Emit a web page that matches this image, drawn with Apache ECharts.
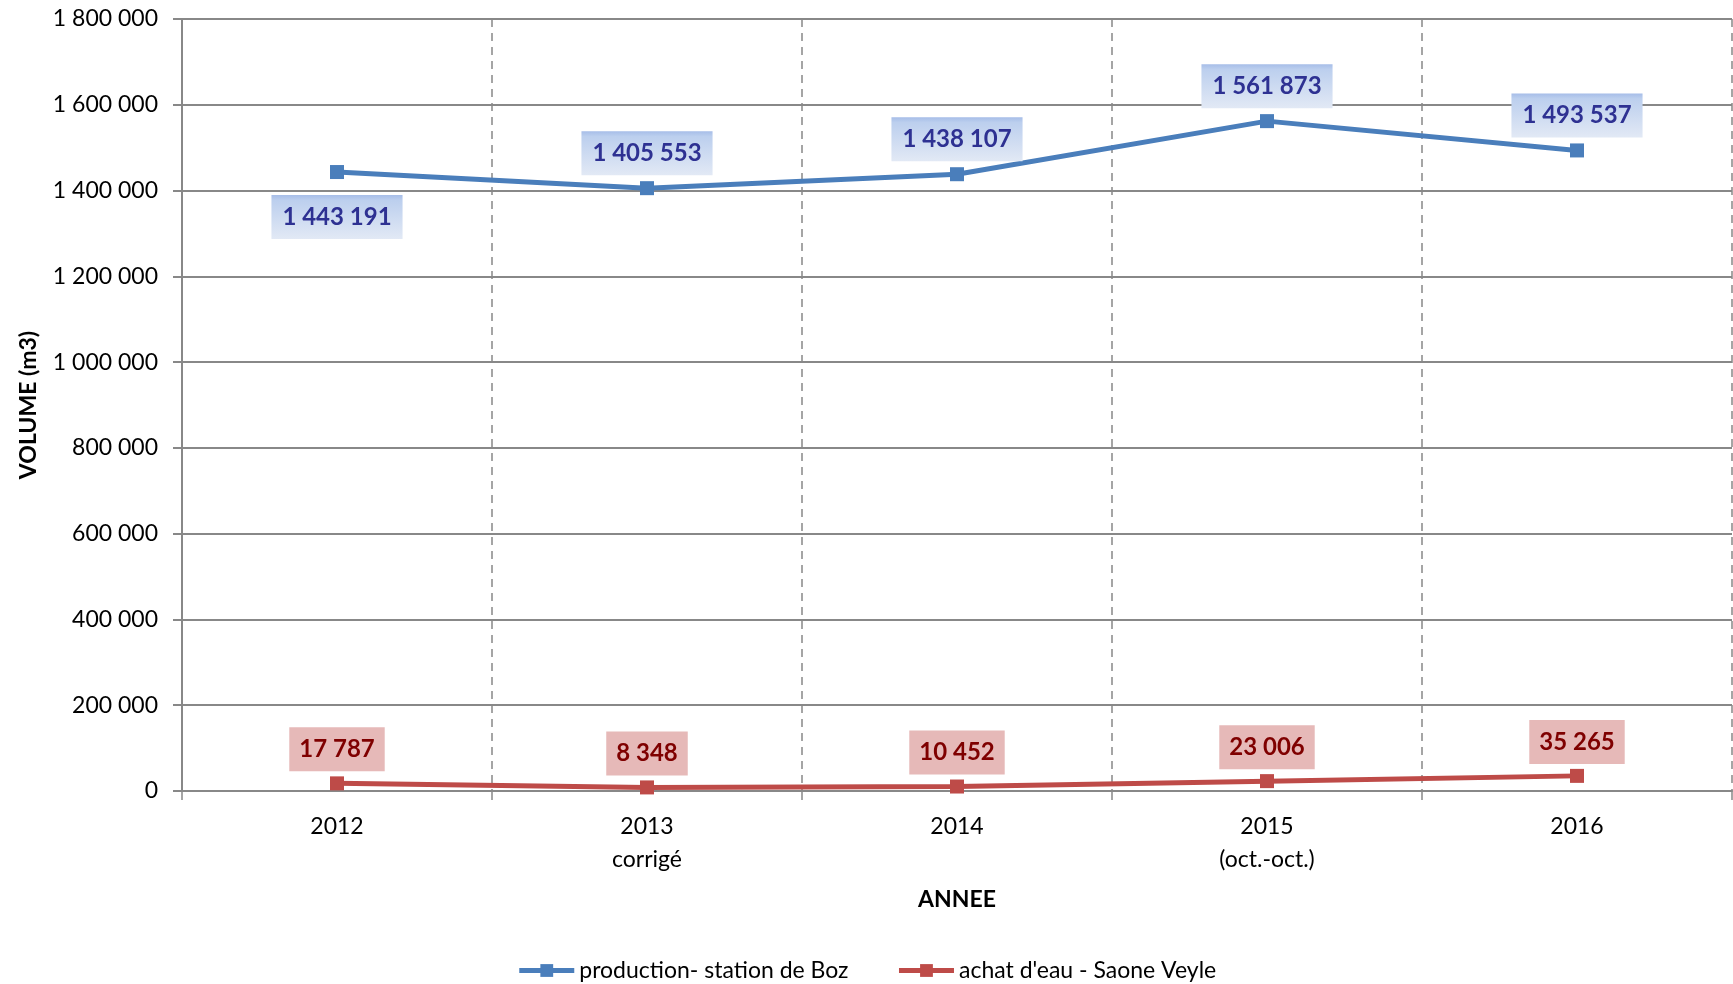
<!DOCTYPE html>
<html>
<head>
<meta charset="utf-8">
<script src="https://cdn.jsdelivr.net/npm/echarts@6/dist/echarts.min.js"></script>
<style>
html,body{margin:0;padding:0;background:#fff;}
#c{width:1733px;height:984px;}
</style>
</head>
<body>
<div id="c"></div>
<script>
const categories = ['2012', '2013\ncorrigé', '2014', '2015\n(oct.-oct.)', '2016'];
const productionBoz = [1443191, 1405553, 1438107, 1561873, 1493537];
const achatSaoneVeyle = [17787, 8348, 10452, 23006, 35265];
const yTicks = { min: 0, max: 1800000, interval: 200000 };
const seriesNames = ['production- station de Boz', "achat d'eau - Saone Veyle"];

const FONT = 'Lato, "Open Sans", sans-serif';
function fmt(v) { return String(v).replace(/\B(?=(\d{3})+(?!\d))/g, ' '); }

const chart = echarts.init(document.getElementById('c'));
const blueBg = new echarts.graphic.LinearGradient(0, 0, 0, 1, [
  { offset: 0, color: '#a6bde8' },
  { offset: 0.12, color: '#bccfee' },
  { offset: 1, color: '#e2e9f5' }
]);

chart.setOption({
  animation: false,
  backgroundColor: '#ffffff',
  textStyle: { fontFamily: FONT },
  grid: { left: 182, right: 1, top: 19, bottom: 193, containLabel: false },
  legend: {
    top: 954,
    left: 'center',
    itemWidth: 55,
    itemHeight: 16,
    itemGap: 48,
    lineStyle: { width: 5 },
    textStyle: { fontFamily: FONT, fontSize: 23, color: '#000' },
    data: seriesNames
  },
  xAxis: {
    type: 'category',
    data: categories,
    boundaryGap: true,
    name: 'ANNEE',
    nameLocation: 'middle',
    nameGap: 97,
    nameTextStyle: { fontFamily: FONT, fontSize: 23, fontWeight: 'bold', color: '#000' },
    axisLine: { show: true, lineStyle: { color: '#888', width: 2 } },
    axisTick: { show: true, length: 9, alignWithLabel: false, lineStyle: { color: '#888', width: 1.5 } },
    axisLabel: { margin: 19, fontFamily: FONT, fontSize: 23, color: '#000', lineHeight: 33 },
    splitLine: { show: true, lineStyle: { color: '#888', width: 1.5, type: [8, 6] } }
  },
  yAxis: {
    type: 'value',
    min: yTicks.min,
    max: yTicks.max,
    interval: yTicks.interval,
    name: 'VOLUME (m3)',
    nameLocation: 'middle',
    nameGap: 142,
    nameRotate: 90,
    nameTextStyle: { fontFamily: FONT, fontSize: 23, fontWeight: 'bold', color: '#000' },
    axisLine: { show: true, lineStyle: { color: '#888', width: 2 } },
    axisTick: { show: true, length: 9, lineStyle: { color: '#888', width: 2 } },
    axisLabel: { margin: 24, fontFamily: FONT, fontSize: 23, color: '#000', formatter: v => fmt(v) },
    splitLine: { show: true, lineStyle: { color: '#888', width: 2 } }
  },
  series: [
    {
      name: seriesNames[0],
      type: 'line',
      symbol: 'rect',
      symbolSize: 14,
      lineStyle: { color: '#4a7ebb', width: 5 },
      itemStyle: { color: '#4a7ebb' },
      data: productionBoz.map((v, i) => ({
        value: v,
        label: i === 0 ? { position: 'bottom', distance: 16 } : {}
      })),
      label: {
        show: true,
        position: 'top',
        distance: 6,
        formatter: p => fmt(p.value),
        fontFamily: FONT,
        fontSize: 24,
        fontWeight: 'bold',
        color: '#2e3192',
        backgroundColor: blueBg,
        padding: [10, 11, 10, 11],
        lineHeight: 24
      }
    },
    {
      name: seriesNames[1],
      type: 'line',
      symbol: 'rect',
      symbolSize: 14,
      lineStyle: { color: '#be4b48', width: 5 },
      itemStyle: { color: '#be4b48' },
      data: achatSaoneVeyle,
      label: {
        show: true,
        position: 'top',
        distance: 5,
        formatter: p => fmt(p.value),
        fontFamily: FONT,
        fontSize: 24,
        fontWeight: 'bold',
        color: '#7f0000',
        backgroundColor: '#e6b9b8',
        padding: [10, 10, 10, 10],
        lineHeight: 24
      }
    }
  ]
});
</script>
</body>
</html>
